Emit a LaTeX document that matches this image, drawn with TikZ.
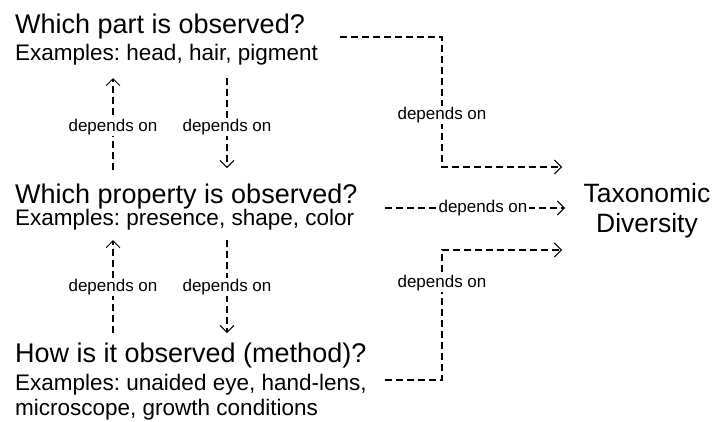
\documentclass[tikz,border=0pt]{standalone}
\usepackage{fontspec}
\setmainfont{Liberation Sans}
\usetikzlibrary{arrows.meta}
\frenchspacing
\begin{document}
\begin{tikzpicture}[x=1pt,y=-1pt,
  depline/.style={draw, line width=1.6pt, dash pattern=on 7pt off 4pt},
  dep/.style={depline, -{Straight Barb[length=7pt,width=14pt,line width=1pt]}},
  lbl/.style={fill=white, inner sep=1.5pt, font=\fontsize{17}{20}\selectfont},
  ttl/.style={anchor=base west, inner sep=0pt, font=\fontsize{27}{30}\selectfont},
  ex/.style={anchor=base west, inner sep=0pt, align=left, font=\fontsize{22.5}{25}\selectfont},
]
\useasboundingbox (0,0) rectangle (715,421);

% text blocks
\node[ttl] (t1) at (15,33) {Which part is observed?};
\node[ex]  (e1) at (15,60) {Examples: head, hair, pigment};
\node[ttl] (t2) at (15,203) {Which property is observed?};
\node[ex]  (e2) at (15,225) {Examples: presence, shape, color};
\node[ttl] (t3) at (15,362) {How is it observed (method)?};
\node[ex]  (e3) at (15,415) {Examples: unaided eye, hand-lens,\\microscope, growth conditions};
\node[anchor=base, inner sep=0pt, align=center, font=\fontsize{26.5}{30}\selectfont] (td) at (647,232) {Taxonomic\\Diversity};

% left vertical connectors
\coordinate (a1s) at (113,170); \coordinate (a1e) at (113,78);
\coordinate (b1s) at (227,78);  \coordinate (b1e) at (227,168);
\coordinate (a2s) at (113,333); \coordinate (a2e) at (113,240);
\coordinate (b2s) at (227,240); \coordinate (b2e) at (227,333);
\draw[dep] (a1s) -- (a1e);
\draw[dep] (b1s) -- (b1e);
\draw[dep] (a2s) -- (a2e);
\draw[dep] (b2s) -- (b2e);
\node[lbl] (la1) at (113,127) {depends on};
\node[lbl] (lb1) at (227,127) {depends on};
\node[lbl] (la2) at (113,287) {depends on};
\node[lbl] (lb2) at (227,287) {depends on};

% right connectors
\coordinate (r1s) at (340,37); \coordinate (r1a) at (442,37);
\coordinate (r1b) at (442,167); \coordinate (r1e) at (562,167);
\draw[dep] (r1s) -- (r1a) -- (r1b) -- (r1e);
\node[lbl] (lr1) at (442,115) {depends on};

\coordinate (r2s) at (385,208); \coordinate (r2e) at (565,208);
\draw[dep] (r2s) -- (r2e);
\node[lbl] (lr2) at (483,208) {depends on};

\coordinate (r3s) at (385,380); \coordinate (r3a) at (442,380);
\coordinate (r3b) at (442,250); \coordinate (r3e) at (562,250);
\draw[dep] (r3s) -- (r3a) -- (r3b) -- (r3e);
\node[lbl] (lr3) at (442,283) {depends on};
\end{tikzpicture}
\end{document}
